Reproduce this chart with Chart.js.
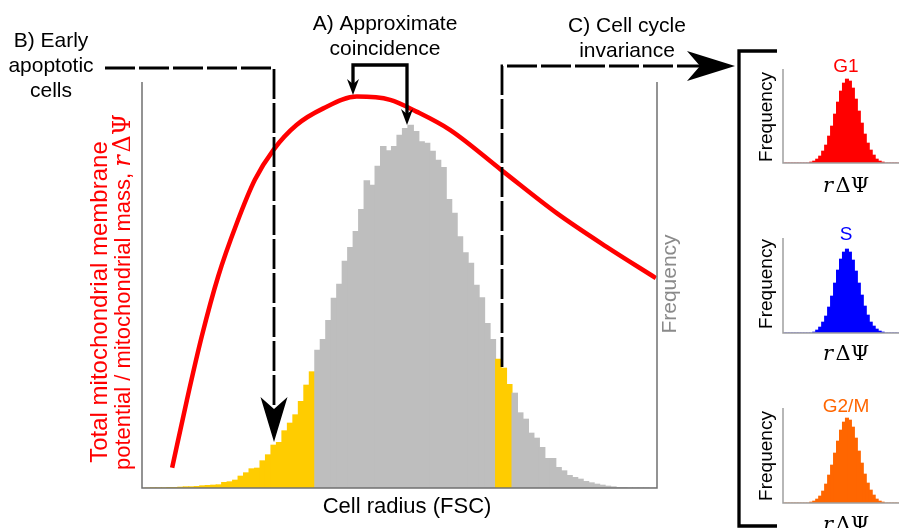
<!DOCTYPE html>
<html>
<head>
<meta charset="utf-8">
<script src="https://cdn.jsdelivr.net/npm/chart.js@4.4.1/dist/chart.umd.min.js"></script>
<style>
  body { margin: 0; background: #fff; }
  #wrap { position: relative; width: 899px; height: 528px; overflow: hidden; }
  #wrap canvas { position: absolute; }
</style>
</head>
<body>
<div id="wrap">
  <canvas id="mainChart" width="899" height="528" style="left:0;top:0;width:899px;height:528px"></canvas>
  <canvas id="g1Chart" width="118" height="98" style="left:781px;top:67px;width:118px;height:98px"></canvas>
  <canvas id="sChart" width="118" height="99" style="left:781px;top:236px;width:118px;height:99px"></canvas>
  <canvas id="g2mChart" width="118" height="99" style="left:781px;top:406px;width:118px;height:99px"></canvas>
</div>
<script>
// cell radius (FSC) histogram, 94 bins
const frequency = [0, 1, 1, 1, 2, 2, 3, 4, 4, 5,
  7, 8, 9, 10, 17, 19, 24, 36, 46, 58,
  60, 82, 100, 129, 137, 172, 195, 220, 260, 309,
  349, 414, 446, 503, 570, 612, 681, 722, 770, 836,
  922, 909, 966, 1025, 1012, 1025, 1059, 1079, 1089, 1070,
  1039, 1035, 1011, 984, 962, 866, 825, 754, 706, 675,
  609, 571, 494, 446, 387, 360, 311, 285, 226, 207,
  165, 150, 122, 89, 89, 62, 52, 38, 32, 27,
  20, 16, 12, 9, 6, 4, 2, 2, 1, 1,
  1, 1, 0, 0];
const binLabels = frequency.map((_, i) => String(i + 1));
// bins highlighted in yellow (first..last index)
const yellowRanges = [[0, 30], [64, 66]];

// red curve: r delta psi vs cell radius (x in bin units, y in % of axis)
const curveX = [5.5, 8.2, 10.9, 13.9, 17.3, 20.6, 24.0, 28.2, 33.1, 39.2, 45.3, 50.1, 56.2, 65.6, 75.7, 84.8, 93.8];
const curveY = [5.0, 21.7, 37.3, 52.1, 65.2, 75.9, 83.3, 89.4, 93.5, 96.4, 95.6, 92.7, 88.2, 78.3, 67.7, 59.4, 51.7];

// small rΔΨ histograms per cell cycle phase
const g1Values = [0, 0, 0, 0, 0, 0, 0, 0, 0, 1, 2, 4, 7, 12, 18, 27, 37, 49, 61, 72, 80, 84, 82, 75, 64, 52, 40, 29, 20, 13, 8, 4, 2, 1, 0, 0, 0, 0, 0];
const sValues = [0, 0, 0, 0, 0, 0, 0, 0, 0, 0, 1, 3, 6, 11, 17, 26, 37, 50, 63, 74, 81, 84, 81, 73, 62, 50, 38, 27, 18, 11, 7, 4, 2, 1, 0, 0, 0, 0, 0];
const g2mValues = [0, 0, 0, 0, 0, 0, 0, 0, 0, 1, 2, 4, 7, 12, 19, 28, 38, 50, 62, 73, 81, 85, 83, 76, 65, 52, 40, 29, 20, 13, 8, 4, 2, 1, 0, 0, 0, 0, 0];

const SANS = "'Liberation Sans', Arial, sans-serif";
const SERIF = "'DejaVu Serif', 'Liberation Serif', serif";

// plot box of the main chart
const PAD = { left: 142, right: 242, top: 82, bottom: 40 };
const MAIN_W = 899, SMALL_W = 118;

const barColors = frequency.map((v, i) =>
  yellowRanges.some(r => i >= r[0] && i <= r[1]) ? '#ffcc00' : '#bebebe');

function arrowHead(ctx, tx, ty, dx, dy, len, half, notch) {
  const px = -dy, py = dx;
  const bx = tx - dx * len, by = ty - dy * len;
  ctx.beginPath();
  ctx.moveTo(tx, ty);
  ctx.lineTo(bx + px * half, by + py * half);
  ctx.lineTo(tx - dx * notch, ty - dy * notch);
  ctx.lineTo(bx - px * half, by - py * half);
  ctx.closePath();
  ctx.fill();
}

function centerText(ctx, s, x, y, font, color) {
  ctx.font = font;
  ctx.fillStyle = color;
  ctx.textAlign = 'center';
  ctx.textBaseline = 'alphabetic';
  ctx.fillText(s, x, y);
}

function rotatedText(ctx, s, x, y, font, color) {
  ctx.save();
  ctx.translate(x, y);
  ctx.rotate(-Math.PI / 2);
  centerText(ctx, s, 0, 0, font, color);
  ctx.restore();
}

// r (italic) followed by ΔΨ
function mathWidth(ctx, size) {
  ctx.font = 'italic ' + size + 'px ' + SERIF;
  const wr = ctx.measureText('r').width;
  ctx.font = size + 'px ' + SERIF;
  return wr + size * 0.12 + ctx.measureText('ΔΨ').width;
}
function drawMath(ctx, x, y, size, color) {
  ctx.fillStyle = color;
  ctx.textAlign = 'left';
  ctx.textBaseline = 'alphabetic';
  ctx.font = 'italic ' + size + 'px ' + SERIF;
  const wr = ctx.measureText('r').width;
  ctx.fillText('r', x, y);
  ctx.font = size + 'px ' + SERIF;
  ctx.fillText('ΔΨ', x + wr + size * 0.12, y);
}

const frame = {
  id: 'frame',
  afterDatasetsDraw(chart) {
    const { ctx, chartArea: a } = chart;
    ctx.save();
    ctx.strokeStyle = '#707070';
    ctx.lineWidth = 1.5;
    ctx.beginPath();
    ctx.moveTo(a.left, a.top);
    ctx.lineTo(a.left, a.bottom);
    ctx.lineTo(a.right, a.bottom);
    ctx.lineTo(a.right, a.top);
    ctx.stroke();
    ctx.restore();
  }
};

const annotations = {
  id: 'annotations',
  afterDraw(chart) {
    const ctx = chart.ctx;
    ctx.save();

    // axis titles
    centerText(ctx, 'Cell radius (FSC)', 407, 513, '22px ' + SANS, '#000');
    rotatedText(ctx, 'Frequency', 676, 284, '21px ' + SANS, '#8a8a8a');

    // left red title, two rotated lines
    ctx.save();
    ctx.translate(107, 302);
    ctx.rotate(-Math.PI / 2);
    centerText(ctx, 'Total mitochondrial membrane', 0, 0, '24px ' + SANS, '#ff0000');
    ctx.restore();

    ctx.save();
    ctx.translate(130, 292);
    ctx.rotate(-Math.PI / 2);
    const l2 = 'potential / mitochondrial mass, ';
    ctx.font = '22px ' + SANS;
    const w2 = ctx.measureText(l2).width;
    const wm = mathWidth(ctx, 24);
    const start = -(w2 + wm) / 2;
    ctx.font = '22px ' + SANS;
    ctx.fillStyle = '#ff0000';
    ctx.textAlign = 'left';
    ctx.textBaseline = 'alphabetic';
    ctx.fillText(l2, start, 0);
    drawMath(ctx, start + w2, 0, 24, '#ff0000');
    ctx.restore();

    // labels at the top
    const f = '21px ' + SANS;
    centerText(ctx, 'B) Early', 51, 47, f, '#000');
    centerText(ctx, 'apoptotic', 51, 72, f, '#000');
    centerText(ctx, 'cells', 51, 97, f, '#000');
    centerText(ctx, 'A) Approximate', 385, 30, f, '#000');
    centerText(ctx, 'coincidence', 385, 55, f, '#000');
    centerText(ctx, 'C) Cell cycle', 627, 32, f, '#000');
    centerText(ctx, 'invariance', 627, 57, f, '#000');

    ctx.strokeStyle = '#000';
    ctx.fillStyle = '#000';
    ctx.lineCap = 'butt';
    ctx.lineJoin = 'miter';

    // B) dashed arrow
    ctx.lineWidth = 2.8;
    ctx.setLineDash([30, 4]);
    ctx.beginPath();
    ctx.moveTo(105, 68);
    ctx.lineTo(274, 68);
    ctx.lineTo(274, 410);
    ctx.stroke();
    // C) dashed arrow
    ctx.beginPath();
    ctx.moveTo(502, 367);
    ctx.lineTo(502, 66);
    ctx.lineTo(700, 66);
    ctx.stroke();
    ctx.setLineDash([]);
    arrowHead(ctx, 274, 442, 0, 1, 45, 13.5, 33);
    arrowHead(ctx, 735, 66, 1, 0, 48, 15, 35);

    // A) solid double arrow
    ctx.lineWidth = 3.3;
    ctx.beginPath();
    ctx.moveTo(353, 86);
    ctx.lineTo(353, 65);
    ctx.lineTo(407, 65);
    ctx.lineTo(407, 115);
    ctx.stroke();
    arrowHead(ctx, 353, 95, 0, 1, 16, 6, 11);
    arrowHead(ctx, 407, 125, 0, 1, 16, 6, 11);

    // bracket
    ctx.beginPath();
    ctx.moveTo(777, 51);
    ctx.lineTo(739, 51);
    ctx.lineTo(739, 526);
    ctx.lineTo(777, 526);
    ctx.stroke();

    // small panel labels
    const pf = '19px ' + SANS;
    centerText(ctx, 'G1', 846, 72, pf, '#ff0000');
    centerText(ctx, 'S', 846, 240, pf, '#0000ff');
    centerText(ctx, 'G2/M', 846, 412, pf, '#ff6600');
    rotatedText(ctx, 'Frequency', 772, 117, pf, '#000');
    rotatedText(ctx, 'Frequency', 772, 284, pf, '#000');
    rotatedText(ctx, 'Frequency', 772, 456, pf, '#000');
    [192, 360, 531].forEach(by => {
      const w = mathWidth(ctx, 21);
      drawMath(ctx, 846 - w / 2, by, 21, '#000');
    });

    ctx.restore();
  }
};

new Chart(document.getElementById('mainChart'), {
  type: 'bar',
  data: {
    labels: binLabels,
    datasets: [
      {
        type: 'line',
        data: curveX.map((x, i) => ({ x: x, y: curveY[i] })),
        xAxisID: 'xr',
        yAxisID: 'yr',
        borderColor: '#ff0000',
        borderWidth: 4.5,
        pointRadius: 0,
        fill: false,
        cubicInterpolationMode: 'monotone',
        order: 0
      },
      {
        type: 'bar',
        data: frequency,
        xAxisID: 'x',
        yAxisID: 'y',
        backgroundColor: barColors,
        borderWidth: 0,
        barPercentage: 1,
        categoryPercentage: 1,
        barThickness: (MAIN_W - PAD.left - PAD.right) / frequency.length + 0.4,
        order: 1
      }
    ]
  },
  options: {
    responsive: false,
    animation: false,
    devicePixelRatio: 1,
    layout: { padding: PAD },
    plugins: { legend: { display: false }, tooltip: { enabled: false } },
    scales: {
      x: { type: 'category', display: false, offset: true },
      y: { display: false, min: 0, max: 1218 },
      xr: { type: 'linear', display: false, min: 0, max: 94, offset: false },
      yr: { type: 'linear', display: false, min: 0, max: 100 }
    }
  },
  plugins: [frame, annotations]
});

const panelAxes = {
  id: 'panelAxes',
  afterDatasetsDraw(chart) {
    const { ctx, chartArea: a } = chart;
    ctx.save();
    ctx.strokeStyle = '#a0a0a0';
    ctx.lineWidth = 1.5;
    ctx.beginPath();
    ctx.moveTo(a.left, a.top);
    ctx.lineTo(a.left, a.bottom);
    ctx.lineTo(chart.width, a.bottom);
    ctx.stroke();
    ctx.restore();
  }
};

function smallHist(id, values, color, ymax) {
  new Chart(document.getElementById(id), {
    type: 'bar',
    data: {
      labels: values.map((_, i) => String(i)),
      datasets: [{
        data: values,
        backgroundColor: color,
        borderWidth: 0,
        barPercentage: 1,
        categoryPercentage: 1,
        barThickness: (SMALL_W - 2) / values.length + 0.4
      }]
    },
    options: {
      responsive: false,
      animation: false,
      devicePixelRatio: 1,
      layout: { padding: { left: 2, right: 0, top: 2, bottom: 2 } },
      plugins: { legend: { display: false }, tooltip: { enabled: false } },
      scales: {
        x: { display: false },
        y: { display: false, min: 0, max: ymax }
      }
    },
    plugins: [panelAxes]
  });
}

smallHist('g1Chart', g1Values, '#ff0000', 94);
smallHist('sChart', sValues, '#0000ff', 95);
smallHist('g2mChart', g2mValues, '#ff6600', 95);
</script>
</body>
</html>
